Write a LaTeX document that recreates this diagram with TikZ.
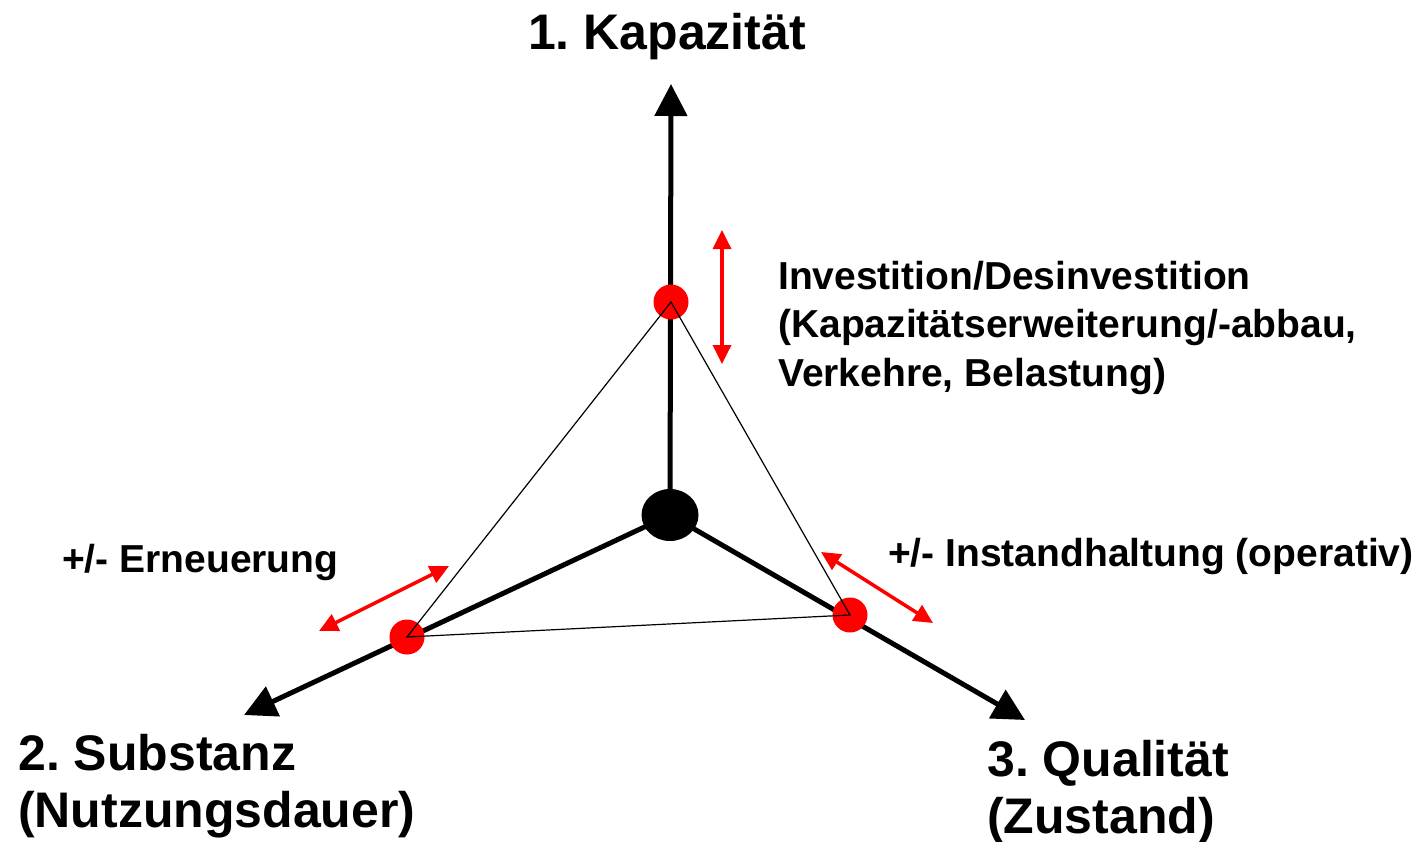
\documentclass[tikz,border=0pt]{standalone}
\usepackage{fontspec}
\setmainfont{Liberation Sans}
\frenchspacing
\usetikzlibrary{arrows.meta,shapes.geometric}
\begin{document}
\begin{tikzpicture}[x=1pt,y=-1pt,
  axis/.style={line width=5pt,-{Triangle[length=32pt,width=32pt]}},
  redarrow/.style={red,line width=3.5pt,{Triangle[length=19pt,width=18pt]}-{Triangle[length=19pt,width=18pt]}},
  reddot/.style={circle,fill=red,inner sep=0pt,minimum size=35pt},
  thin/.style={line width=1.2pt},
  biglabel/.style={font=\bfseries\fontsize{50}{57}\selectfont\frenchspacing,inner sep=0pt,align=left},
  smalllabel/.style={font=\bfseries\fontsize{39}{48.5}\selectfont\frenchspacing,inner sep=0pt,align=left}]
\useasboundingbox (0,0) rectangle (1420,842);
% axes
\coordinate (ctr) at (670,515);
\coordinate (tipK) at (671,84);
\coordinate (tipS) at (244,715);
\coordinate (tipQ) at (1025,720);
\draw[axis] (ctr) -- (tipK);
\draw[axis] (ctr) -- (tipS);
\draw[axis] (ctr) -- (tipQ);
% dots
\node[reddot] (dK) at (671,302) {};
\node[reddot] (dS) at (407,637) {};
\node[reddot] (dQ) at (850,615) {};
\draw[thin] (dK.center) -- (dS.center) -- (dQ.center) -- cycle;
\node[ellipse,fill=black,inner sep=0pt,minimum width=57pt,minimum height=52pt] (c) at (ctr) {};
% red arrows
\coordinate (rK1) at (722,230);
\coordinate (rK2) at (722,364);
\coordinate (rS1) at (319,631);
\coordinate (rS2) at (449,566);
\coordinate (rQ1) at (821,552);
\coordinate (rQ2) at (933,623);
\draw[redarrow] (rK1) -- (rK2);
\draw[redarrow] (rS1) -- (rS2);
\draw[redarrow] (rQ1) -- (rQ2);
% labels
\node[biglabel,anchor=base] (lK) at (667,50) {1. Kapazität};
\node[biglabel,anchor=base west] (lS) at (18,827) {2. Substanz\\(Nutzungsdauer)};
\node[biglabel,anchor=base west] (lQ) at (987,833) {3. Qualität\\(Zustand)};
\node[smalllabel,anchor=base west] (lI) at (778,386) {Investition/Desinvestition\\(Kapazitätserweiterung/-abbau,\\Verkehre, Belastung)};
\node[smalllabel,anchor=base west] (lE) at (62,572) {+/- Erneuerung};
\node[smalllabel,anchor=base west] (lH) at (888,566) {+/- Instandhaltung (operativ)};
\end{tikzpicture}
\end{document}
